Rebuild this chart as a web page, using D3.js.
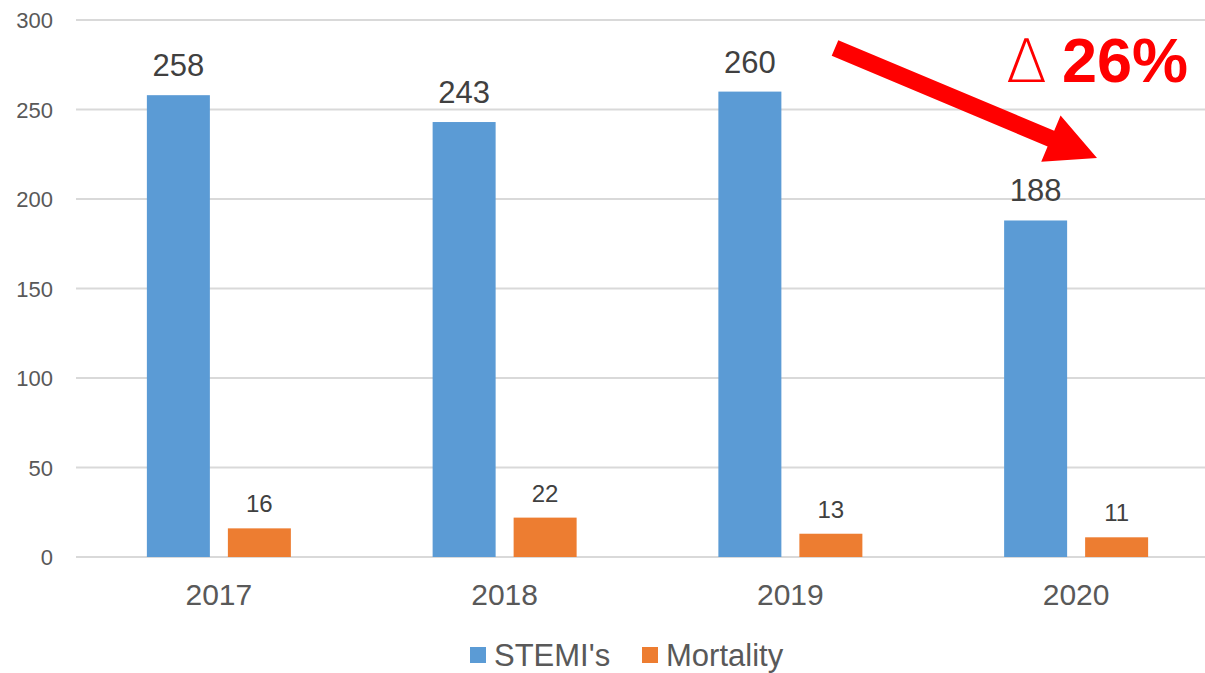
<!DOCTYPE html>
<html><head><meta charset="utf-8">
<script src="https://cdn.jsdelivr.net/npm/d3@7"></script>
<style>body{margin:0;background:#fff;}svg{display:block;font-family:"Liberation Sans",Arial,sans-serif;}</style>
</head><body><svg id="c" width="1205" height="673"></svg>
<script>
const categories = ["2017","2018","2019","2020"];
const stemis = [258,243,260,188];
const mortality = [16,22,13,11];
const seriesNames = ["STEMI's","Mortality"];
const yTicks = [0,50,100,150,200,250,300];
const colors = ["#5B9BD5","#ED7D31"];

const svg = d3.select("#c");
const L = 76, R = 1219, T = 20, B = 557;
const x = d3.scaleBand().domain(categories).range([L,R]).paddingInner(0).paddingOuter(0);
const y = d3.scaleLinear().domain([0,300]).range([B,T]);
const bw = 63, gap = 18;

// gridlines
svg.append("g").selectAll("line").data(yTicks).join("line")
  .attr("x1",L).attr("x2",R).attr("y1",d=>y(d)).attr("y2",d=>y(d))
  .attr("stroke","#d9d9d9").attr("stroke-width",2);

// y axis labels
const yAxis = d3.axisLeft(y).tickValues(yTicks).tickSize(0).tickPadding(0);
const ga = svg.append("g").attr("transform",`translate(53,0)`).call(yAxis);
ga.select(".domain").remove();
ga.selectAll("text").attr("fill","#595959").attr("dy","0.36em").style("font-size","22px").style("font-family","Liberation Sans, Arial, sans-serif");

// x axis labels
const xAxis = d3.axisBottom(x).tickSize(0).tickPadding(0);
const gx = svg.append("g").attr("transform",`translate(0,${B})`).call(xAxis);
gx.select(".domain").remove();
gx.selectAll("text").attr("fill","#595959").attr("dy",null).attr("y",48).style("font-size","30px").style("font-family","Liberation Sans, Arial, sans-serif");

const data = categories.map((c,i)=>({c, s:stemis[i], m:mortality[i]}));
const cx = c => x(c) + x.bandwidth()/2;

// bars
svg.append("g").selectAll("rect").data(data).join("rect")
  .attr("x",d=>cx(d.c)-gap/2-bw).attr("width",bw)
  .attr("y",d=>y(d.s)).attr("height",d=>B-y(d.s)).attr("fill",colors[0]);
svg.append("g").selectAll("rect").data(data).join("rect")
  .attr("x",d=>cx(d.c)+gap/2).attr("width",bw)
  .attr("y",d=>y(d.m)).attr("height",d=>B-y(d.m)).attr("fill",colors[1]);

// value labels
svg.append("g").selectAll("text").data(data).join("text")
  .attr("x",d=>cx(d.c)-gap/2-bw/2).attr("y",d=>y(d.s)-19)
  .attr("text-anchor","middle").attr("fill","#404040").style("font-size","31px").text(d=>d.s);
svg.append("g").selectAll("text").data(data).join("text")
  .attr("x",d=>cx(d.c)+gap/2+bw/2).attr("y",d=>y(d.m)-16)
  .attr("text-anchor","middle").attr("fill","#404040").style("font-size","24px").text(d=>d.m);

// legend
const leg = svg.append("g");
const legItems = [{n:seriesNames[0],x:470},{n:seriesNames[1],x:642}];
legItems.forEach((it,i)=>{
  leg.append("rect").attr("x",it.x).attr("y",647).attr("width",16).attr("height",16).attr("fill",colors[i]);
  leg.append("text").attr("x",it.x+24).attr("y",666).attr("fill","#595959").style("font-size","31px").text(it.n);
});

// arrow annotation
const sx=835, sy=48, ex=1097, ey=158;
const ang = Math.atan2(ey-sy, ex-sx);
const headLen = 50, headHalf = 25, shaft = 8.5;
const bx = ex - headLen*Math.cos(ang), by = ey - headLen*Math.sin(ang);
const px = -Math.sin(ang), py = Math.cos(ang);
const pts = [
  [sx+px*shaft, sy+py*shaft],[bx+px*shaft, by+py*shaft],[bx+px*headHalf, by+py*headHalf],
  [ex,ey],[bx-px*headHalf, by-py*headHalf],[bx-px*shaft, by-py*shaft],[sx-px*shaft, sy-py*shaft]
];
svg.append("polygon").attr("points",pts.map(p=>p.join(",")).join(" ")).attr("fill","#FF0000");

svg.append("text").attr("x",1006).attr("y",82).attr("fill","#FF0000")
  .style("font-size","60px").style("font-family","DejaVu Sans, sans-serif").style("font-weight","200").text("∆");
svg.append("text").attr("x",1062).attr("y",82).attr("fill","#FF0000")
  .style("font-size","63px").style("font-weight","bold").text("26%");
</script></body></html>
